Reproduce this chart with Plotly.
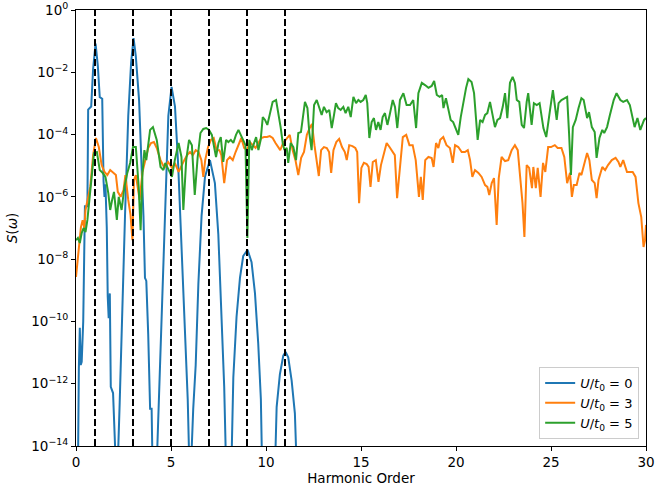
import plotly.graph_objects as go

# ---------------- data ----------------
# harmonic order positions and log10 of S(omega) for each series
h_u0 = [0.0, 0.1, 0.15, 0.2, 0.25, 0.3, 0.38, 0.43, 0.47, 0.6, 0.64, 0.8, 0.9, 1.03, 1.15, 1.25,
        1.38, 1.45, 1.5, 1.55, 1.62, 1.67, 1.72, 1.78, 1.83, 1.95, 2.05, 2.15, 2.3, 2.4, 2.49,
        2.58, 2.75, 2.9, 3.03, 3.15, 3.32, 3.46, 3.55, 3.63, 3.7, 3.8, 3.9, 3.98, 4.05, 4.2,
        4.33, 4.47, 4.59, 4.72, 4.86, 5.03, 5.21, 5.38, 5.52, 5.74, 5.88, 6.0, 6.17, 6.3, 6.44,
        6.61, 6.79, 7.05, 7.31, 7.49, 7.67, 7.8, 7.93, 8.15, 8.28, 8.45, 8.63, 8.8, 9.03, 9.24,
        9.42, 9.59, 9.73, 9.82, 10.44, 10.56, 10.73, 10.91, 11.03, 11.17, 11.35, 11.52, 11.66, 12.0]
log_s_u0 = [-15.5, -15.0, -11.5, -10.2, -11.4, -11.3, -10.0, -8.0, -6.3, -6.3, -3.2, -3.1, -1.9, -1.08, -1.8, -2.8,
            -2.85, -5.5, -6.0, -5.6, -7.0, -9.2, -9.9, -9.1, -12.1, -12.3, -13.6, -15.5, -12.6, -10.4, -8.25,
            -6.6, -3.4, -1.7, -0.9, -1.5, -2.9, -5.0, -6.6, -8.6, -8.7, -10.4, -12.8, -12.8, -15.5, -15.5,
            -13.1, -10.4, -8.25, -6.1, -3.4, -2.47, -3.1, -5.0, -7.2, -10.4, -12.5, -15.5, -12.8, -11.4, -8.8,
            -6.6, -5.35, -4.82, -5.56, -7.2, -9.85, -12.1, -15.5, -15.5, -11.8, -9.85, -8.6, -7.9, -7.7, -8.1,
            -9.1, -10.7, -12.5, -15.5, -15.5, -12.75, -11.7, -11.1, -10.98, -11.15, -11.9, -12.95, -15.5, -16.0]

h_u3 = [0.0, 0.15, 0.26, 0.35, 0.44, 0.5, 0.62, 0.75, 0.9, 1.05, 1.2, 1.35, 1.5, 1.65, 1.8, 1.95,
        2.1, 2.2, 2.35, 2.5, 2.6, 2.75, 2.87, 2.97, 3.05, 3.15, 3.25, 3.35, 3.5, 3.65, 3.8, 3.95,
        4.1, 4.25, 4.45, 4.65, 4.85, 5.05, 5.2, 5.4, 5.55, 5.7, 5.85, 6.0, 6.15, 6.3, 6.45, 6.6,
        6.7, 6.8, 6.95, 7.1, 7.25, 7.4, 7.55, 7.65, 7.8, 7.95, 8.1, 8.25, 8.4, 8.55, 8.7, 8.85,
        9.0, 9.15, 9.3, 9.45, 9.6, 9.75, 9.9, 10.05, 10.2, 10.35, 10.5, 10.65, 10.75, 10.9, 11.05,
        11.25, 11.4, 11.55, 11.7, 11.85, 12.0, 12.15, 12.3, 12.42, 12.55, 12.68, 12.78, 12.9, 13.05,
        13.2, 13.32, 13.43, 13.55, 13.7, 13.85, 14.0, 14.15, 14.25, 14.38, 14.55, 14.7, 14.8, 14.9,
        15.02, 15.15, 15.3, 15.4, 15.5, 15.62, 15.78, 15.92, 16.05, 16.2, 16.35, 16.5, 16.65, 16.78,
        16.9, 17.05, 17.2, 17.38, 17.55, 17.72, 17.88, 18.05, 18.15, 18.25, 18.38, 18.55, 18.72,
        18.82, 18.95, 19.07, 19.17, 19.33, 19.5, 19.68, 19.83, 19.95, 20.12, 20.3, 20.47, 20.62,
        20.74, 20.86, 21.0, 21.18, 21.35, 21.53, 21.65, 21.75, 21.88, 22.0, 22.14, 22.25, 22.4,
        22.58, 22.75, 22.93, 23.1, 23.25, 23.37, 23.5, 23.6, 23.72, 23.85, 24.0, 24.07, 24.2, 24.3,
        24.45, 24.58, 24.7, 24.85, 25.0, 25.2, 25.35, 25.55, 25.7, 25.85, 26.0, 26.1, 26.2, 26.35,
        26.5, 26.6, 26.75, 26.9, 27.02, 27.15, 27.3, 27.4, 27.5, 27.7, 27.85, 28.0, 28.2, 28.4,
        28.55, 28.65, 28.8, 29.0, 29.15, 29.3, 29.45, 29.6, 29.75, 29.87, 29.95, 30.0]
log_s_u3 = [-8.57, -7.7, -6.97, -6.75, -7.0, -6.42, -6.1, -5.68, -4.66, -4.11, -4.4, -4.98, -5.2, -5.3, -5.14, -5.23,
            -5.3, -5.84, -6.0, -5.78, -5.3, -6.1, -6.58, -7.39, -5.46, -5.3, -5.78, -6.1, -5.2, -4.82, -4.43, -4.27,
            -4.24, -4.43, -4.82, -5.07, -4.88, -5.07, -4.91, -5.2, -4.98, -4.82, -4.66, -4.56, -4.66, -4.5, -4.56, -4.82,
            -5.36, -4.82, -4.4, -4.17, -4.11, -4.5, -4.5, -4.66, -5.56, -4.82, -4.72, -4.82, -4.56, -4.34, -4.11, -4.43,
            -4.5, -4.24, -4.34, -4.43, -4.27, -4.11, -4.08, -4.08, -4.05, -4.11, -4.27, -4.43, -4.5, -4.27, -4.17,
            -4.01, -4.5, -4.82, -5.3, -4.75, -4.56, -4.01, -3.79, -3.66, -4.34, -4.82, -5.33, -4.5, -4.4,
            -4.43, -4.56, -5.23, -4.5, -4.24, -4.14, -4.4, -4.56, -4.82, -4.34, -4.37, -4.43, -4.56, -6.2,
            -5.07, -4.91, -4.95, -5.04, -5.68, -4.88, -4.82, -5.52, -4.98, -4.66, -4.27, -4.4, -4.56, -4.66,
            -6.04, -4.98, -4.08, -4.01, -4.34, -4.34, -4.82, -6.0, -5.36, -6.1, -4.82, -4.72, -4.75,
            -5.04, -4.27, -4.43, -4.17, -4.08, -4.34, -4.43, -4.91, -4.34, -4.4, -4.56, -4.56, -4.5,
            -4.82, -5.36, -5.14, -5.23, -5.36, -5.62, -5.68, -5.94, -5.56, -5.4, -6.9, -5.4, -4.72,
            -4.85, -4.82, -4.5, -4.34, -4.5, -5.36, -6.2, -7.29, -4.98, -5.07, -5.72, -5.04, -5.72, -5.07,
            -6.0, -4.91, -5.2, -4.4, -4.4, -4.34, -4.43, -4.43, -4.72, -5.56, -5.23, -6.0, -5.62, -5.62,
            -5.23, -5.3, -4.91, -4.59, -4.82, -5.46, -5.56, -6.04, -5.46, -5.04, -5.14, -4.98, -4.82, -4.75,
            -4.88, -5.04, -4.82, -5.2, -5.2, -5.2, -5.36, -6.2, -6.65, -7.61, -7.39, -6.9]

h_u5 = [0.0, 0.1, 0.2, 0.3, 0.4, 0.5, 0.6, 0.7, 0.8, 0.95, 1.1, 1.25, 1.4, 1.55, 1.7, 1.8, 1.9,
        2.0, 2.15, 2.25, 2.4, 2.55, 2.7, 2.85, 3.0, 3.15, 3.3, 3.4, 3.5, 3.6, 3.7, 3.9, 4.05, 4.25,
        4.45, 4.6, 4.7, 4.9, 5.05, 5.2, 5.4, 5.55, 5.65, 5.8, 5.95, 6.1, 6.25, 6.4, 6.55, 6.7, 6.85,
        7.0, 7.15, 7.27, 7.37, 7.5, 7.62, 7.75, 7.9, 8.02, 8.15, 8.28, 8.42, 8.55, 8.67, 8.8, 8.92,
        9.02, 9.12, 9.25, 9.37, 9.48, 9.6, 9.72, 9.83, 9.95, 10.07, 10.2, 10.35, 10.53, 10.65, 10.77,
        10.88, 10.97, 11.09, 11.17, 11.3, 11.44, 11.58, 11.7, 11.84, 11.96, 12.05, 12.18, 12.28, 12.4,
        12.53, 12.67, 12.8, 12.93, 13.05, 13.19, 13.33, 13.46, 13.58, 13.68, 13.8, 13.93, 14.07, 14.19,
        14.33, 14.46, 14.6, 14.74, 14.86, 14.98, 15.12, 15.25, 15.33, 15.44, 15.56, 15.68, 15.79, 15.91,
        16.03, 16.14, 16.26, 16.39, 16.53, 16.67, 16.79, 16.91, 17.05, 17.23, 17.4, 17.58, 17.75, 17.9,
        18.02, 18.2, 18.37, 18.55, 18.72, 18.85, 18.99, 19.14, 19.27, 19.34, 19.47, 19.6, 19.72, 19.85,
        19.97, 20.12, 20.25, 20.39, 20.53, 20.65, 20.82, 20.95, 21.05, 21.14, 21.27, 21.4, 21.53, 21.65,
        21.79, 21.93, 22.05, 22.18, 22.32, 22.46, 22.58, 22.7, 22.84, 22.98, 23.1, 23.2, 23.33, 23.46,
        23.58, 23.72, 23.8, 23.98, 24.1, 24.25, 24.4, 24.6, 24.75, 24.95, 25.1, 25.3, 25.4, 25.55, 25.7,
        25.85, 25.95, 26.05, 26.15, 26.3, 26.45, 26.6, 26.72, 26.9, 27.0, 27.15, 27.3, 27.4, 27.55, 27.7,
        27.8, 27.95, 28.1, 28.3, 28.45, 28.65, 28.8, 29.0, 29.15, 29.3, 29.4, 29.55, 29.7, 29.9, 30.0]
log_s_u5 = [-7.39, -7.32, -7.48, -7.16, -7.0, -7.13, -6.74, -6.1, -5.46, -4.59, -4.56, -5.14, -5.23, -5.36, -5.88, -6.42, -6.1,
            -5.84, -6.74, -6.0, -6.42, -5.68, -5.23, -4.91, -4.4, -4.4, -5.68, -7.07, -5.23, -4.5, -4.82, -3.85, -3.76, -4.17,
            -5.04, -5.14, -4.91, -5.14, -5.36, -4.82, -4.27, -4.72, -6.42, -4.82, -4.17, -4.34, -5.94, -4.75, -3.95, -3.82, -3.79,
            -3.85, -4.01, -4.4, -4.72, -4.27, -4.08, -4.88, -4.17, -4.24, -4.17, -4.27, -4.01, -3.85, -4.01, -4.17, -4.34,
            -7.32, -4.17, -4.5, -4.27, -4.08, -4.5, -4.17, -3.44, -3.53, -3.69, -3.31, -2.95, -2.89, -3.31, -3.76,
            -4.27, -4.5, -4.43, -4.91, -4.27, -4.4, -4.82, -3.95, -3.92, -3.31, -2.95, -3.15, -3.95, -4.5,
            -3.05, -2.89, -3.11, -3.37, -3.11, -3.28, -3.21, -3.79, -3.37, -2.99, -3.15, -3.21, -3.11, -3.31,
            -3.11, -3.44, -2.79, -2.99, -2.89, -2.95, -2.89, -2.73, -2.99, -4.11, -3.6, -3.47, -3.85, -3.6,
            -3.85, -3.44, -3.31, -3.69, -3.31, -2.89, -3.11, -3.79, -2.89, -2.67, -3.05, -3.05, -2.89, -3.79,
            -2.67, -2.34, -2.41, -2.5, -2.44, -2.28, -2.73, -2.79, -2.73, -3.15, -2.83, -3.15, -3.53, -3.6,
            -3.76, -4.01, -3.44, -2.95, -2.5, -2.22, -2.31, -2.67, -3.53, -4.17, -3.53, -3.6, -3.37, -3.31,
            -2.95, -3.44, -3.76, -3.53, -3.47, -3.11, -2.67, -3.47, -2.34, -2.15, -2.34, -2.89, -2.95, -3.69,
            -3.79, -2.95, -2.67, -3.69, -2.99, -3.05, -2.99, -3.79, -4.08, -3.21, -2.57, -3.53, -2.99, -2.89, -2.83,
            -2.79, -3.95, -5.3, -3.76, -3.53, -3.15, -2.83, -2.89, -3.47, -3.28, -3.76, -3.92, -4.75, -4.11, -3.85,
            -3.95, -3.76, -3.37, -2.89, -2.67, -2.89, -2.95, -2.89, -3.05, -3.44, -3.76, -3.47, -3.85, -3.53, -3.47]

series_labels = ["<i>U</i>/<i>t</i><sub>0</sub> = 0",
                 "<i>U</i>/<i>t</i><sub>0</sub> = 3",
                 "<i>U</i>/<i>t</i><sub>0</sub> = 5"]
odd_harmonics = [1, 3, 5, 7, 9, 11]
x_ticks = [0, 5, 10, 15, 20, 25, 30]
y_tick_exponents = [0, -2, -4, -6, -8, -10, -12, -14]

# ---------------- figure ----------------
colors = ["#1f77b4", "#ff7f0e", "#2ca02c"]
FONT = "DejaVu Sans"

fig = go.Figure()
for hx, ly, name, col in zip([h_u0, h_u3, h_u5], [log_s_u0, log_s_u3, log_s_u5], series_labels, colors):
    fig.add_trace(go.Scatter(
        x=hx, y=[10 ** v for v in ly], mode="lines", name=name,
        line=dict(color=col, width=2)))

for h in odd_harmonics:
    fig.add_vline(x=h, line=dict(color="black", width=2, dash="7px,3px"), layer="above")

fig.update_layout(
    width=655, height=492,
    margin=dict(l=76, r=9, t=10, b=46, autoexpand=False),
    paper_bgcolor="white", plot_bgcolor="white",
    font=dict(family=FONT, size=13.5, color="black"),
    showlegend=True,
    legend=dict(
        x=0.988, y=0.016, xanchor="right", yanchor="bottom",
        bgcolor="rgba(255,255,255,0.8)", bordercolor="#cccccc", borderwidth=1,
        font=dict(family=FONT, size=13), itemwidth=30, tracegroupgap=0,
    ),
)
fig.update_xaxes(
    range=[0, 30], tickvals=x_ticks, ticktext=[str(v) for v in x_ticks],
    automargin=False,
    showgrid=False, zeroline=False,
    showline=True, mirror=True, linecolor="black", linewidth=1,
    ticks="outside", ticklen=4, tickwidth=1, tickcolor="black",
    title=dict(text="Harmonic Order", standoff=4, font=dict(family=FONT, size=13.5)),
)
fig.update_yaxes(
    type="log", range=[-14, 0],
    automargin=False,
    tickvals=[10 ** e for e in y_tick_exponents],
    ticktext=["10<sup>%s</sup>" % (str(e).replace("-", "\u2212")) for e in y_tick_exponents],
    showgrid=False, zeroline=False,
    showline=True, mirror=True, linecolor="black", linewidth=1,
    ticks="outside", ticklen=4, tickwidth=1, tickcolor="black",
    title=dict(text="<i>S</i>(<i>ω</i>)", standoff=10, font=dict(family=FONT, size=13.5)),
)

fig.write_html("out.html",
               config={"displayModeBar": False},
               post_script="document.body.style.margin='0';document.body.style.overflow='hidden';")
